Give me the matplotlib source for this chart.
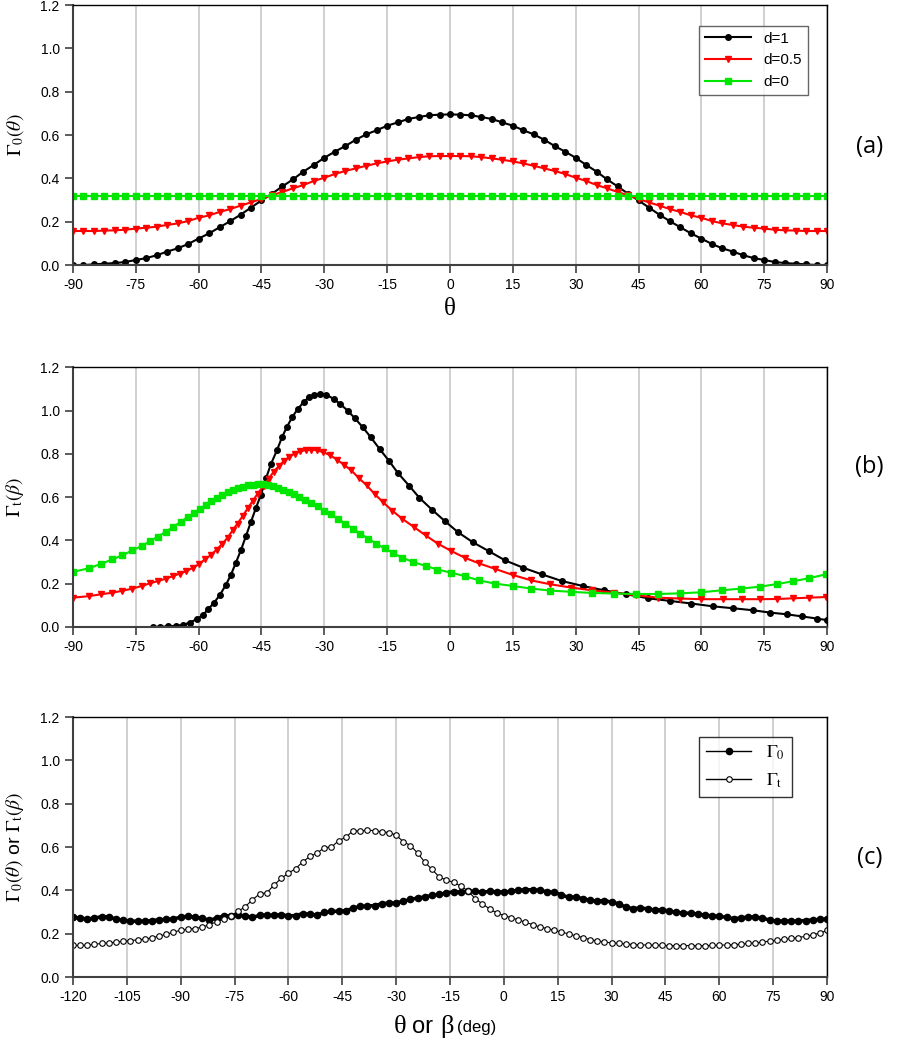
import numpy as np
import matplotlib
matplotlib.use("Agg")
import matplotlib.pyplot as plt

plt.rcParams['font.family'] = ['Liberation Sans', 'DejaVu Sans']
plt.rcParams['mathtext.fontset'] = 'stix'
plt.rcParams['axes.unicode_minus'] = False

# ---- panel (a): Gamma_0(theta), points every 2.5 deg ----
theta_a = np.arange(-90, 90.1, 2.5)
a_d1 = [0.0, 0.0, 0.003, 0.006, 0.009, 0.014, 0.023, 0.032, 0.045, 0.062, 0.077, 0.097,
        0.122, 0.146, 0.174, 0.202, 0.232, 0.265, 0.298, 0.329, 0.363, 0.395, 0.431, 0.462,
        0.495, 0.523, 0.549, 0.578, 0.603, 0.622, 0.643, 0.658, 0.674, 0.683, 0.691, 0.694,
        0.695,
        0.694, 0.691, 0.683, 0.674, 0.658, 0.643, 0.622, 0.603, 0.578, 0.549, 0.523, 0.495,
        0.462, 0.431, 0.395, 0.363, 0.329, 0.298, 0.265, 0.232, 0.202, 0.174, 0.146, 0.122,
        0.097, 0.077, 0.062, 0.045, 0.032, 0.023, 0.014, 0.009, 0.006, 0.003, 0.0, 0.0]
a_d05 = [0.157, 0.157, 0.157, 0.159, 0.160, 0.163, 0.168, 0.172, 0.177, 0.185, 0.192, 0.203,
         0.218, 0.229, 0.245, 0.258, 0.274, 0.289, 0.305, 0.322, 0.337, 0.354, 0.369, 0.388,
         0.403, 0.420, 0.434, 0.446, 0.458, 0.469, 0.478, 0.486, 0.492, 0.498, 0.502, 0.503,
         0.503,
         0.503, 0.502, 0.498, 0.492, 0.486, 0.478, 0.469, 0.458, 0.446, 0.434, 0.420, 0.403,
         0.388, 0.369, 0.354, 0.337, 0.322, 0.305, 0.289, 0.274, 0.258, 0.245, 0.229, 0.218,
         0.203, 0.192, 0.185, 0.177, 0.172, 0.168, 0.163, 0.160, 0.159, 0.157, 0.157, 0.157]
a_d0 = [0.318] * len(theta_a)

# ---- panel (b): Gamma_t(beta), uneven beta spacing ----
b_d1_x = [-70.9, -69.1, -67.3, -65.3, -63.7, -62.1, -60.5, -59.0, -57.7, -56.3, -54.9, -53.5,
          -52.3, -51.1, -49.9, -48.7, -47.5, -46.3, -45.1, -43.9, -42.7, -41.3, -40.1, -38.9,
          -37.6, -36.3, -34.9, -33.7, -32.4, -31.0, -29.6, -27.8, -26.2, -24.4, -22.7, -20.8,
          -18.9, -16.8, -14.6, -12.4, -9.8, -7.3, -4.3, -1.2, 1.9, 5.4, 9.2, 13.1, 17.4, 21.9,
          26.7, 31.7, 36.8, 42.0, 47.3, 52.5, 57.6, 62.7, 67.6, 72.2, 76.4, 80.4, 84.1, 87.7, 90.0]
b_d1_y = [0.0, 0.0, 0.002, 0.005, 0.009, 0.020, 0.035, 0.054, 0.082, 0.112, 0.148, 0.194,
          0.240, 0.297, 0.355, 0.420, 0.486, 0.551, 0.612, 0.688, 0.755, 0.817, 0.877, 0.926,
          0.972, 1.009, 1.040, 1.062, 1.074, 1.077, 1.075, 1.055, 1.031, 1.000, 0.965, 0.923,
          0.877, 0.823, 0.769, 0.711, 0.654, 0.597, 0.542, 0.489, 0.438, 0.392, 0.351, 0.308,
          0.274, 0.243, 0.212, 0.189, 0.169, 0.151, 0.132, 0.120, 0.108, 0.095, 0.086, 0.077,
          0.066, 0.058, 0.048, 0.038, 0.031]
b_d05_x = [-90.0, -86.2, -83.2, -80.6, -78.2, -75.8, -73.6, -71.5, -69.7, -67.8, -66.1, -64.5,
           -62.9, -61.3, -59.8, -58.5, -57.1, -55.7, -54.3, -53.1, -51.9, -50.7, -49.5, -48.3,
           -47.1, -45.9, -44.5, -43.3, -42.1, -40.9, -39.7, -38.4, -37.1, -35.7, -34.4, -33.1,
           -31.8, -30.2, -28.6, -27.0, -25.4, -23.6, -21.8, -19.9, -18.0, -16.0, -13.8, -11.4,
           -8.6, -5.8, -2.9, 0.3, 3.5, 6.9, 10.8, 15.0, 19.4, 23.9, 28.9, 33.9, 39.2, 44.4,
           49.7, 54.8, 60.0, 65.1, 69.7, 74.0, 78.1, 81.9, 85.7, 89.7]
b_d05_y = [0.135, 0.142, 0.151, 0.158, 0.167, 0.177, 0.189, 0.202, 0.212, 0.223, 0.235, 0.246,
           0.258, 0.274, 0.292, 0.312, 0.332, 0.357, 0.385, 0.412, 0.446, 0.478, 0.512, 0.548,
           0.582, 0.617, 0.651, 0.686, 0.717, 0.743, 0.766, 0.786, 0.802, 0.812, 0.818, 0.820,
           0.817, 0.808, 0.794, 0.774, 0.751, 0.725, 0.689, 0.655, 0.615, 0.577, 0.538, 0.500,
           0.462, 0.423, 0.385, 0.351, 0.320, 0.294, 0.268, 0.240, 0.215, 0.197, 0.182, 0.169,
           0.158, 0.146, 0.135, 0.131, 0.128, 0.128, 0.128, 0.128, 0.129, 0.132, 0.135, 0.138]
b_d0_x = [-90.0, -86.2, -83.2, -80.6, -78.2, -75.8, -73.6, -71.5, -69.7, -67.8, -66.1, -64.3,
          -62.6, -61.0, -59.7, -58.3, -57.0, -55.7, -54.3, -53.1, -51.9, -50.7, -49.5, -48.3,
          -47.1, -45.9, -44.7, -43.5, -42.3, -41.1, -39.9, -38.5, -37.3, -36.0, -34.5, -33.2,
          -31.6, -30.0, -28.4, -26.7, -25.0, -23.1, -21.4, -19.5, -17.6, -15.6, -13.6, -11.4,
          -8.8, -5.8, -3.0, 0.2, 3.5, 6.9, 10.8, 15.0, 19.4, 23.9, 28.9, 33.9, 39.2, 44.4,
          49.7, 54.8, 60.0, 64.8, 69.5, 74.0, 78.1, 81.9, 85.7, 89.7]
b_d0_y = [0.254, 0.271, 0.292, 0.312, 0.331, 0.354, 0.374, 0.397, 0.418, 0.440, 0.462, 0.485,
          0.508, 0.526, 0.546, 0.563, 0.580, 0.597, 0.609, 0.622, 0.632, 0.642, 0.649, 0.655,
          0.658, 0.660, 0.660, 0.657, 0.651, 0.643, 0.635, 0.625, 0.614, 0.602, 0.588, 0.574,
          0.557, 0.538, 0.520, 0.500, 0.477, 0.454, 0.431, 0.408, 0.385, 0.363, 0.342, 0.320,
          0.300, 0.282, 0.265, 0.251, 0.235, 0.215, 0.200, 0.189, 0.177, 0.168, 0.162, 0.157,
          0.154, 0.152, 0.152, 0.155, 0.160, 0.169, 0.177, 0.186, 0.198, 0.211, 0.225, 0.243]

# ---- panel (c): measured Gamma_0 and Gamma_t, every 2 deg ----
ang_c = np.arange(-120, 90.1, 2)
c_g0 = [0.277, 0.272, 0.268, 0.272, 0.279, 0.277, 0.268, 0.262, 0.258, 0.258, 0.258, 0.260,
        0.265, 0.266, 0.268, 0.277, 0.280, 0.276, 0.272, 0.262, 0.272, 0.282, 0.284, 0.285,
        0.283, 0.275, 0.285, 0.286, 0.285, 0.288, 0.282, 0.284, 0.293, 0.290, 0.286, 0.298,
        0.303, 0.304, 0.306, 0.318, 0.326, 0.328, 0.330, 0.338, 0.342, 0.342, 0.350, 0.358,
        0.365, 0.370, 0.377, 0.382, 0.388, 0.394, 0.392, 0.397, 0.395, 0.392, 0.395, 0.393,
        0.392, 0.396, 0.400, 0.403, 0.403, 0.400, 0.394, 0.391, 0.380, 0.368, 0.369, 0.362,
        0.354, 0.351, 0.353, 0.346, 0.338, 0.322, 0.316, 0.319, 0.315, 0.309, 0.310, 0.305,
        0.298, 0.296, 0.294, 0.291, 0.285, 0.283, 0.280, 0.276, 0.269, 0.273, 0.277, 0.277,
        0.272, 0.263, 0.258, 0.258, 0.258, 0.258, 0.261, 0.264, 0.266, 0.268]
c_gt = [0.146, 0.146, 0.147, 0.151, 0.155, 0.158, 0.161, 0.165, 0.168, 0.172, 0.175, 0.181,
        0.189, 0.198, 0.207, 0.216, 0.221, 0.224, 0.230, 0.242, 0.255, 0.267, 0.284, 0.303,
        0.325, 0.357, 0.384, 0.389, 0.425, 0.455, 0.480, 0.500, 0.532, 0.557, 0.572, 0.598,
        0.600, 0.630, 0.645, 0.676, 0.674, 0.678, 0.676, 0.671, 0.667, 0.655, 0.625, 0.607,
        0.572, 0.530, 0.497, 0.462, 0.448, 0.437, 0.420, 0.398, 0.362, 0.338, 0.315, 0.296,
        0.284, 0.274, 0.264, 0.253, 0.242, 0.231, 0.224, 0.216, 0.208, 0.199, 0.191, 0.182,
        0.173, 0.167, 0.161, 0.158, 0.155, 0.153, 0.150, 0.148, 0.148, 0.147, 0.146, 0.145,
        0.145, 0.145, 0.145, 0.145, 0.145, 0.146, 0.147, 0.148, 0.149, 0.152, 0.155, 0.158,
        0.161, 0.166, 0.170, 0.174, 0.178, 0.182, 0.188, 0.195, 0.203, 0.215]

GREEN = '#00e600'
RED = '#ff0000'
SERIF = ['Liberation Serif', 'DejaVu Serif']


def style_axes(ax, xmin, xmax):
    ax.set_xlim(xmin, xmax)
    ax.set_ylim(0, 1.2)
    ax.set_xticks(np.arange(xmin, xmax + 1, 15))
    ax.set_yticks(np.arange(0, 1.21, 0.2))
    ax.set_yticklabels(['%.1f' % v for v in np.arange(0, 1.21, 0.2)])
    ax.grid(axis='x', color='#c8c8c8', lw=1.2)
    ax.set_axisbelow(True)
    for s in ['left', 'bottom']:
        ax.spines[s].set_color('#404040')
        ax.spines[s].set_linewidth(1.5)
    for s in ['top', 'right']:
        ax.spines[s].set_color('black')
        ax.spines[s].set_linewidth(1.0)
    ax.tick_params(direction='out', length=6, width=1.2, color='#404040', labelsize=10)


fig = plt.figure(figsize=(9, 10.5), dpi=100)
left, width = 0.081, 0.838

# (a)
ax1 = fig.add_axes([left, 0.7476, width, 0.2476])
ax1.plot(theta_a, a_d1, '-o', color='black', lw=1.5, ms=4, label='d=1')
ax1.plot(theta_a, a_d05, '-v', color=RED, lw=1.5, ms=5, label='d=0.5')
ax1.plot(theta_a, a_d0, '-s', color=GREEN, lw=1.5, ms=4.5, label='d=0')
style_axes(ax1, -90, 90)
ax1.set_xlabel('θ', fontsize=18, labelpad=4, family=SERIF)
ax1.set_ylabel(r'$\Gamma_0(\theta)$', fontsize=14, labelpad=10)
leg = ax1.legend(loc='upper right', bbox_to_anchor=(0.985, 0.95), fontsize=11,
                 frameon=True, fancybox=False, edgecolor='#404040', handlelength=3)
leg.get_frame().set_linewidth(1.0)

# (b)
ax2 = fig.add_axes([left, 0.403, width, 0.247])
ax2.plot(b_d1_x, b_d1_y, '-o', color='black', lw=1.5, ms=4)
ax2.plot(b_d05_x, b_d05_y, '-v', color=RED, lw=1.5, ms=5)
ax2.plot(b_d0_x, b_d0_y, '-s', color=GREEN, lw=1.5, ms=4.5)
style_axes(ax2, -90, 90)
ax2.set_ylabel(r'$\Gamma_\mathrm{t}(\beta)$', fontsize=14, labelpad=10)

# (c)
ax3 = fig.add_axes([left, 0.0695, width, 0.2475])
ax3.plot(ang_c, c_g0, '-o', color='black', lw=2.5, ms=4.5, label=r'$\Gamma_\mathrm{0}$')
ax3.plot(ang_c, c_gt, '-o', color='black', lw=0.8, ms=4, mfc='white', mew=0.8,
         label=r'$\Gamma_\mathrm{t}$')
style_axes(ax3, -120, 90)
ax3.set_ylabel(r'$\Gamma_0(\theta)$ or $\Gamma_\mathrm{t}(\beta)$', fontsize=14, labelpad=10)
leg3 = ax3.legend(loc='upper right', bbox_to_anchor=(0.965, 0.96), fontsize=13,
                  frameon=True, fancybox=False, edgecolor='black', handlelength=2.5)
leg3.get_frame().set_linewidth(1.0)
for line in leg3.get_lines():
    line.set_linewidth(1.0)

# bottom axis title, pieced together in mixed fonts
fig.text(0.438, 0.022, 'θ', fontsize=19, ha='left', va='center', family=SERIF)
fig.text(0.458, 0.022, 'or', fontsize=17, ha='left', va='center')
fig.text(0.489, 0.022, 'β', fontsize=19, ha='left', va='center', family=SERIF)
fig.text(0.508, 0.021, '(deg)', fontsize=12, ha='left', va='center')

for lab, y in [('(a)', 0.860), ('(b)', 0.555), ('(c)', 0.183)]:
    fig.text(0.966, y, lab, fontsize=17, ha='center', va='center',
             family=['Open Sans', 'DejaVu Sans'])

fig.savefig('out.png', dpi=100)
